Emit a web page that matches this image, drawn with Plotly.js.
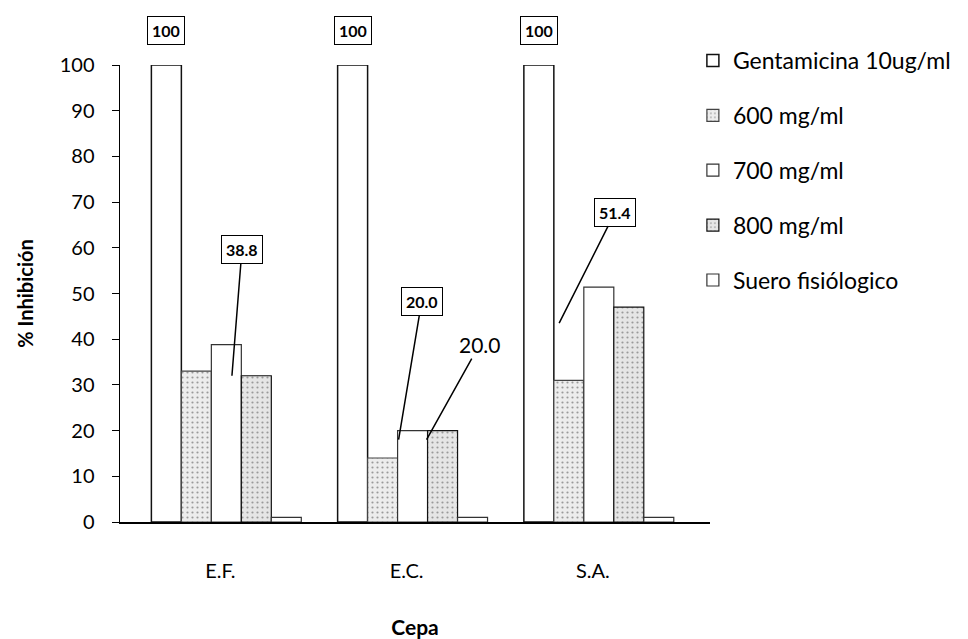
<!DOCTYPE html>
<html>
<head>
<meta charset="utf-8">
<script src="https://cdn.plot.ly/plotly-3.0.1.min.js"></script>
<style>html,body{margin:0;padding:0;background:#fff;}#chart{width:968px;height:639px;}</style>
</head>
<body>
<div id="chart"></div>
<script>
const categories = ["E.F.", "E.C.", "S.A."];
const seriesNames = ["Gentamicina 10ug/ml", "600 mg/ml", "700 mg/ml", "800 mg/ml", "Suero fisiólogico"];
const gentamicina = [100, 100, 100];
const mg600 = [33, 14, 31];
const mg700 = [38.8, 20.0, 51.4];
const mg800 = [32, 20.0, 47];
const suero = [1, 1, 1];
const yTicks = [0, 10, 20, 30, 40, 50, 60, 70, 80, 90, 100];

const FONT = "Lato, 'Open Sans', sans-serif";
const seriesValues = [gentamicina, mg600, mg700, mg800, suero];
const fills = ["#ffffff", "#ededed", "#ffffff", "#e6e6e6", "#ffffff"];
const lines = ["#111111", "#444444", "#333333", "#111111", "#333333"];
const patterns = ["", ".", "", ".", ""];

const traces = seriesValues.map((vals, i) => ({
  type: "bar",
  name: seriesNames[i],
  x: categories,
  y: vals,
  legendgroup: "g" + i,
  marker: {
    color: fills[i],
    line: {color: lines[i], width: i === 0 ? 1.5 : 1.2},
    pattern: patterns[i] ? {shape: patterns[i], fgcolor: "#9a9a9a", bgcolor: fills[i], size: 5, solidity: 0.15} : undefined
  },
  hoverinfo: "x+y+name"
}));

const barW = 0.805 / 5;
const off = k => -0.4025 + barW * (k + 0.5);

const annotations = [];
categories.forEach((c, i) => {
  annotations.push({
    x: i + off(0), y: gentamicina[i], xref: "x", yref: "y",
    text: "<b>" + gentamicina[i] + "</b>", showarrow: false, yshift: 35,
    font: {family: FONT, size: 16, color: "#000"},
    bordercolor: "#000", borderwidth: 1, borderpad: 4, bgcolor: "#fff"
  });
});
annotations.push({
  x: 0.03, y: 32, xref: "x", yref: "y", text: "<b>" + mg700[0].toFixed(1) + "</b>",
  showarrow: true, arrowhead: 0, arrowwidth: 1.5, arrowcolor: "#000", ax: 10, ay: -126,
  font: {family: FONT, size: 16, color: "#000"}, bordercolor: "#000", borderwidth: 1, borderpad: 4, bgcolor: "#fff"
});
annotations.push({
  x: 0.925, y: 18, xref: "x", yref: "y", text: "<b>" + mg700[1].toFixed(1) + "</b>",
  showarrow: true, arrowhead: 0, arrowwidth: 1.5, arrowcolor: "#000", ax: 23, ay: -138,
  font: {family: FONT, size: 16, color: "#000"}, bordercolor: "#000", borderwidth: 1, borderpad: 4, bgcolor: "#fff"
});
annotations.push({
  x: 1.075, y: 18, xref: "x", yref: "y", text: mg800[1].toFixed(1),
  showarrow: true, arrowhead: 0, arrowwidth: 1.5, arrowcolor: "#000", ax: 53, ay: -95,
  font: {family: FONT, size: 21, color: "#000"}
});
annotations.push({
  x: 1.787, y: 43.5, xref: "x", yref: "y", text: "<b>" + mg700[2].toFixed(1) + "</b>",
  showarrow: true, arrowhead: 0, arrowwidth: 1.5, arrowcolor: "#000", ax: 56, ay: -111,
  font: {family: FONT, size: 16, color: "#000"}, bordercolor: "#000", borderwidth: 1, borderpad: 4, bgcolor: "#fff"
});

const layout = {
  width: 968, height: 639,
  margin: {l: 120, r: 253, t: 65, b: 117},
  paper_bgcolor: "#fff", plot_bgcolor: "#fff",
  barmode: "group", bargap: 0.195, bargroupgap: 0,
  font: {family: FONT, color: "#000"},
  showlegend: true,
  legend: {x: 0.971, y: 1.057, xanchor: "left", yanchor: "top", tracegroupgap: 22,
           font: {family: FONT, size: 23, color: "#000"}, bgcolor: "rgba(0,0,0,0)"},
  xaxis: {
    type: "category", range: [-0.571, 2.597],
    showline: true, linecolor: "#000", linewidth: 1.5,
    ticks: "", showgrid: false, zeroline: false,
    tickfont: {family: FONT, size: 20, color: "#000"},
    ticklabelstandoff: 30, ticklabelshift: -6,
    title: {text: "<b>Cepa</b>", font: {family: FONT, size: 21, color: "#000"}, standoff: 40}
  },
  yaxis: {
    range: [0, 100], tickvals: yTicks, ticktext: yTicks.map(String),
    showline: true, linecolor: "#000", linewidth: 1.5,
    ticks: "outside", ticklen: 7, tickcolor: "#000",
    showgrid: false, zeroline: false,
    tickfont: {family: FONT, size: 20, color: "#000"},
    ticklabelstandoff: 13,
    title: {text: "<b>% Inhibición</b>", font: {family: FONT, size: 20, color: "#000"}, standoff: 20}
  },
  annotations: annotations
};

Plotly.newPlot("chart", traces, layout, {displayModeBar: false, staticPlot: true});
</script>
</body>
</html>
